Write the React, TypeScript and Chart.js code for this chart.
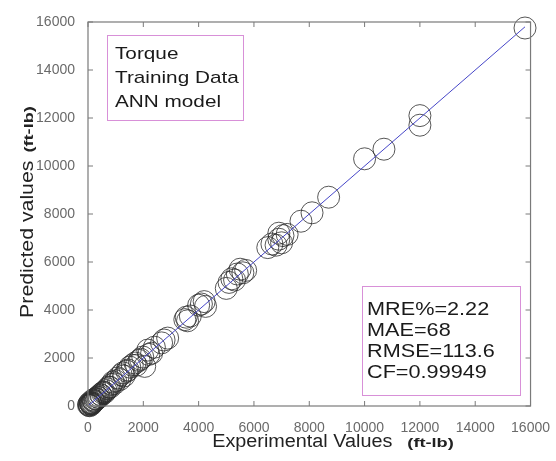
import React, { useEffect, useRef } from "react";
import { Chart, registerables } from "chart.js";

Chart.register(...registerables);

const experimental: number[] = [
  20, 60, 90, 130, 30, 170, 220, 260, 320, 380, 480, 520, 650, 800, 950, 1150, 1300, 1450, 1750, 1900, 2200, 2400,
  50, 100, 150, 80, 200, 250, 120, 300, 180, 350, 400, 450, 550, 600, 700, 750, 850, 900, 1000, 1080,
  1200, 1260, 1400, 1510, 1600, 1700, 1850, 1980, 2050, 2160, 2300, 2660, 2750, 2880,
  3500, 3600, 3700, 3550, 4000, 4100, 4250, 4200, 5000, 5100, 5200, 5300, 5400, 5600, 5700, 5500,
  6500, 6650, 6800, 6900, 7000, 7050, 7200, 6900, 7700, 8100, 8700, 10000, 10700, 12000, 12000, 15800,
];
const predicted: number[] = [
  30, 10, 110, 100, 80, 140, 200, 300, 310, 350, 450, 540, 640, 780, 930, 1100, 1250, 1500, 1700, 1950, 2150, 2450,
  40, 80, 120, 150, 180, 230, 60, 280, 250, 370, 420, 480, 580, 560, 720, 790, 900, 1000, 1050, 1170,
  1300, 1380, 1450, 1620, 1700, 1790, 1900, 2040, 1650, 2330, 2200, 2630, 2750, 2830,
  3600, 3550, 3750, 3700, 4200, 4250, 4150, 4350, 4900, 5150, 5300, 5250, 5500, 5550, 5650, 5700,
  6600, 6750, 6700, 6950, 6800, 7100, 7150, 7200, 7700, 8050, 8700, 10300, 10700, 12100, 11700, 15750,
];
const fitLineX: number[] = [0, 15800];
const fitLineY: number[] = [0, 15800];
const tickValues: number[] = [0, 2000, 4000, 6000, 8000, 10000, 12000, 14000, 16000];
const infoLines1: string[] = ["Torque", "Training Data", "ANN model"];
const infoLines2: string[] = ["MRE%=2.22", "MAE=68", "RMSE=113.6", "CF=0.99949"];
const xTitle = "Experimental Values";
const yTitle = "Predicted values";
const unit = "(ft-lb)";

const FONT = "Arial, 'Liberation Sans', sans-serif";

function stretchedText(ctx: any, text: string, x: number, y: number, sx: number) {
  ctx.save();
  ctx.translate(x, y);
  ctx.scale(sx, 1);
  ctx.fillText(text, 0, 0);
  ctx.restore();
}

const framePlugin = {
  id: "matlabFrame",
  afterDraw(chart: any) {
    const { ctx, chartArea } = chart;
    const xs = chart.scales.x;
    const ys = chart.scales.y;
    const { left, right, top, bottom } = chartArea;
    ctx.save();
    // frame
    ctx.strokeStyle = "#7a7a7a";
    ctx.lineWidth = 1.2;
    ctx.strokeRect(left, top, right - left, bottom - top);
    // inward ticks
    ctx.lineWidth = 1;
    ctx.beginPath();
    tickValues.forEach((v) => {
      const px = xs.getPixelForValue(v);
      ctx.moveTo(px, bottom);
      ctx.lineTo(px, bottom - 5);
      ctx.moveTo(px, top);
      ctx.lineTo(px, top + 5);
      const py = ys.getPixelForValue(v);
      ctx.moveTo(left, py);
      ctx.lineTo(left + 5, py);
      ctx.moveTo(right, py);
      ctx.lineTo(right - 5, py);
    });
    ctx.stroke();

    // text boxes
    ctx.strokeStyle = "#d890d8";
    ctx.lineWidth = 1;
    ctx.strokeRect(107.5, 35.5, 136, 85);
    ctx.fillStyle = "#1a1a1a";
    ctx.font = `17px ${FONT}`;
    ctx.textBaseline = "alphabetic";
    ctx.textAlign = "left";
    infoLines1.forEach((t, i) => stretchedText(ctx, t, 115, 59 + i * 24, 1.22));

    ctx.strokeRect(362.5, 286.5, 158, 109);
    ctx.font = `19px ${FONT}`;
    infoLines2.forEach((t, i) => stretchedText(ctx, t, 367, 315 + i * 21, 1.14));

    // x title
    ctx.fillStyle = "#222";
    ctx.font = `18px ${FONT}`;
    const sxT = 1.1;
    const sxU = 1.4;
    const w1 = ctx.measureText(xTitle).width * sxT;
    ctx.font = `bold 13px ${FONT}`;
    const w2 = ctx.measureText(unit).width * sxU;
    const gap = 15;
    const total = w1 + gap + w2;
    const cx = 333;
    const sx = cx - total / 2;
    ctx.font = `18px ${FONT}`;
    stretchedText(ctx, xTitle, sx, 447, sxT);
    ctx.font = `bold 13px ${FONT}`;
    stretchedText(ctx, unit, sx + w1 + gap, 447, sxU);

    // y title
    ctx.translate(33, 212);
    ctx.rotate(-Math.PI / 2);
    ctx.font = `19px ${FONT}`;
    const syT = 1.12;
    const h1 = ctx.measureText(yTitle).width * syT;
    ctx.font = `bold 13px ${FONT}`;
    const h2 = ctx.measureText(unit).width * 1.4;
    const tot2 = h1 + 8 + h2;
    ctx.font = `19px ${FONT}`;
    stretchedText(ctx, yTitle, -tot2 / 2, 0, syT);
    ctx.font = `bold 13px ${FONT}`;
    stretchedText(ctx, unit, -tot2 / 2 + h1 + 8, 0, 1.4);
    ctx.restore();
  },
};

export default function App() {
  const ref = useRef<HTMLCanvasElement | null>(null);
  useEffect(() => {
    document.body.style.margin = "0";
    if (!ref.current) return;
    const scatter = experimental.map((x, i) => ({ x, y: predicted[i] }));
    const line = fitLineX.map((x, i) => ({ x, y: fitLineY[i] }));
    const chart = new Chart(ref.current, {
      type: "scatter",
      data: {
        datasets: [
          {
            type: "line",
            data: line,
            borderColor: "#4646c8",
            borderWidth: 1,
            pointRadius: 0,
            fill: false,
            order: 0,
            clip: false,
          },
          {
            data: scatter,
            pointRadius: 11,
            pointBorderColor: "rgba(45,45,45,0.8)",
            pointBackgroundColor: "rgba(0,0,0,0)",
            pointBorderWidth: 1,
            order: 1,
            clip: false,
          },
        ],
      },
      options: {
        animation: false,
        responsive: false,
        events: [],
        layout: { padding: { top: 22, right: 23, left: 0, bottom: 0 } },
        plugins: { legend: { display: false }, tooltip: { enabled: false } },
        scales: {
          x: {
            type: "linear",
            min: 0,
            max: 16000,
            afterBuildTicks: (s: any) => {
              s.ticks = tickValues.map((v) => ({ value: v }));
            },
            afterFit: (s: any) => {
              s.height = 55;
            },
            grid: { display: false },
            border: { display: false },
            ticks: {
              color: "#6a6a6a",
              font: { size: 14, family: FONT },
              padding: 6,
              maxRotation: 0,
              autoSkip: false,
              callback: (v: any) => String(v),
            },
          },
          y: {
            type: "linear",
            min: 0,
            max: 16000,
            afterBuildTicks: (s: any) => {
              s.ticks = tickValues.map((v) => ({ value: v }));
            },
            afterFit: (s: any) => {
              s.width = 88;
            },
            grid: { display: false },
            border: { display: false },
            ticks: {
              color: "#6a6a6a",
              font: { size: 14, family: FONT },
              padding: 5,
              autoSkip: false,
              callback: (v: any) => String(v),
            },
          },
        },
      },
      plugins: [framePlugin],
    });
    return () => chart.destroy();
  }, []);
  return (
    <div style={{ width: 556, height: 461 }}>
      <canvas ref={ref} width={556} height={461} style={{ width: 556, height: 461 }} />
    </div>
  );
}
